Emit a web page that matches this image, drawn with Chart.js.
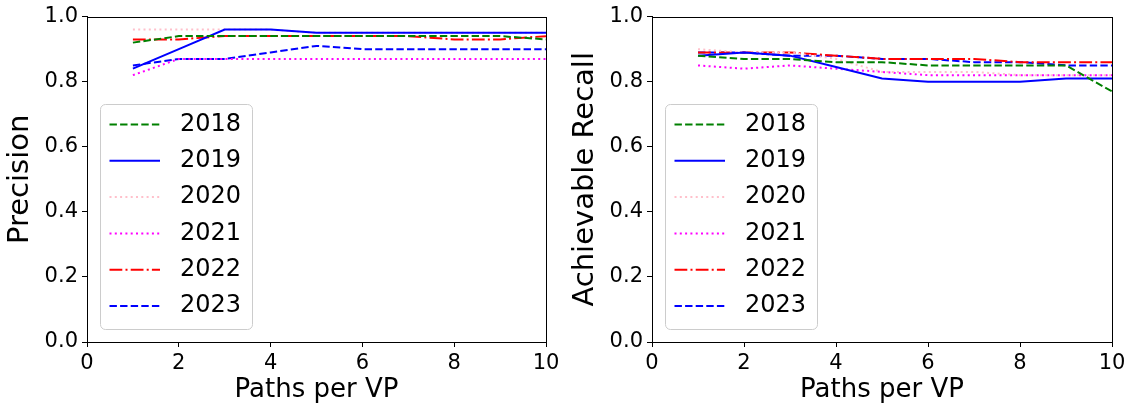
<!DOCTYPE html>
<html>
<head>
<meta charset="utf-8">
<script src="https://cdn.jsdelivr.net/npm/chart.js@4"></script>
<style>
  body { margin: 0; background: #fff; }
  #wrap { position: relative; width: 1138px; height: 409px; }
  #precisionChart { position: absolute; left: 0; top: 0; }
  #recallChart { position: absolute; left: 565px; top: 0; }
</style>
</head>
<body>
<div id="wrap">
  <canvas id="precisionChart" width="565" height="409"></canvas>
  <canvas id="recallChart" width="573" height="409"></canvas>
</div>
<script>
// x values and ticks
const pathsPerVP = [1, 2, 3, 4, 5, 6, 7, 8, 9, 10];
const years = ['2018', '2019', '2020', '2021', '2022', '2023'];
const xTicks = [0, 2, 4, 6, 8, 10];
const yTicks = [0.0, 0.2, 0.4, 0.6, 0.8, 1.0];

// precision per year
const precision2018 = [0.92, 0.94, 0.94, 0.94, 0.94, 0.94, 0.94, 0.94, 0.94, 0.93];
const precision2019 = [0.84, 0.90, 0.96, 0.96, 0.95, 0.95, 0.95, 0.95, 0.95, 0.95];
const precision2020 = [0.96, 0.96, 0.96, 0.96, 0.95, 0.95, 0.95, 0.95, 0.95, 0.95];
const precision2021 = [0.82, 0.87, 0.87, 0.87, 0.87, 0.87, 0.87, 0.87, 0.87, 0.87];
const precision2022 = [0.93, 0.93, 0.94, 0.94, 0.94, 0.94, 0.94, 0.93, 0.93, 0.94];
const precision2023 = [0.85, 0.87, 0.87, 0.89, 0.91, 0.90, 0.90, 0.90, 0.90, 0.90];

// achievable recall per year
const recall2018 = [0.88, 0.87, 0.87, 0.86, 0.86, 0.85, 0.85, 0.85, 0.85, 0.77];
const recall2019 = [0.88, 0.89, 0.88, 0.845, 0.81, 0.80, 0.80, 0.80, 0.81, 0.81];
const recall2020 = [0.90, 0.89, 0.89, 0.87, 0.83, 0.83, 0.83, 0.82, 0.82, 0.82];
const recall2021 = [0.85, 0.84, 0.85, 0.84, 0.83, 0.82, 0.82, 0.82, 0.82, 0.82];
const recall2022 = [0.89, 0.89, 0.89, 0.88, 0.87, 0.87, 0.87, 0.86, 0.86, 0.86];
const recall2023 = [0.89, 0.89, 0.88, 0.88, 0.87, 0.87, 0.86, 0.86, 0.85, 0.85];

const FONT = "'DejaVu Sans', sans-serif";
const lineStyles = [
    { color: 'green',   dash: [7.4, 3.2] },
    { color: 'blue',    dash: [] },
    { color: 'pink',    dash: [2, 3.3] },
    { color: '#ff00ff', dash: [2, 3.3] },
    { color: 'red',     dash: [12.8, 3.2, 2, 3.2] },
    { color: 'blue',    dash: [7.4, 3.2] }
];

function makeDatasets(seriesList) {
    return seriesList.map((vals, i) => ({
        label: years[i],
        data: pathsPerVP.map((x, j) => ({ x: x, y: vals[j] })),
        borderColor: lineStyles[i].color,
        backgroundColor: lineStyles[i].color,
        borderDash: lineStyles[i].dash,
        borderWidth: 2,
        pointRadius: 0,
        fill: false,
        tension: 0
    }));
}

// full box around the plot area, like matplotlib spines
const frame = {
    id: 'frame',
    afterDraw(chart) {
        const { ctx, chartArea: a } = chart;
        ctx.save();
        ctx.strokeStyle = '#000';
        ctx.lineWidth = 1;
        ctx.strokeRect(Math.round(a.left) + 0.5, Math.round(a.top) + 0.5,
            Math.round(a.right - a.left), Math.round(a.bottom - a.top));
        ctx.restore();
    }
};

// legend drawn inside the plot, lower left
const innerLegend = {
    id: 'innerLegend',
    afterDatasetsDraw(chart) {
        const { ctx, chartArea: a } = chart;
        const x = a.left + 13, y = a.bottom - 238, w = 152, h = 225, r = 5;
        ctx.save();
        ctx.beginPath();
        ctx.roundRect(x + 0.5, y + 0.5, w, h, r);
        ctx.fillStyle = 'rgba(255,255,255,0.8)';
        ctx.fill();
        ctx.strokeStyle = '#cccccc';
        ctx.lineWidth = 1;
        ctx.stroke();
        chart.data.datasets.forEach((ds, i) => {
            const cy = y + 20.5 + i * 36.3;
            ctx.beginPath();
            ctx.setLineDash(ds.borderDash);
            ctx.strokeStyle = ds.borderColor;
            ctx.lineWidth = 2;
            ctx.moveTo(x + 9.5, cy);
            ctx.lineTo(x + 60, cy);
            ctx.stroke();
            ctx.setLineDash([]);
            ctx.fillStyle = '#000';
            ctx.font = '24px ' + FONT;
            ctx.textBaseline = 'middle';
            ctx.textAlign = 'left';
            ctx.fillText(ds.label, x + 80, cy);
        });
        ctx.restore();
    }
};

function makeOptions(yTitle, rightPad) {
    return {
        responsive: false,
        animation: false,
        layout: { padding: { top: 14, right: rightPad, left: 0, bottom: 0 } },
        plugins: {
            legend: { display: false },
            tooltip: { enabled: false }
        },
        scales: {
            x: {
                type: 'linear',
                min: 0,
                max: 10,
                afterFit: s => { s.height = 67; },
                afterBuildTicks: s => { s.ticks = xTicks.map(v => ({ value: v })); },
                grid: { drawOnChartArea: false, drawTicks: true, tickLength: 5, color: '#000' },
                border: { color: '#000', width: 1 },
                ticks: { color: '#000', padding: 4, maxRotation: 0, font: { family: FONT, size: 21 } },
                title: {
                    display: true,
                    text: 'Paths per VP',
                    color: '#000',
                    font: { family: FONT, size: 26, lineHeight: 1 },
                    padding: { top: 0, bottom: 6 }
                }
            },
            y: {
                min: 0,
                max: 1,
                afterFit: s => { s.width = 87; },
                afterBuildTicks: s => { s.ticks = yTicks.map(v => ({ value: v })); },
                grid: { drawOnChartArea: false, drawTicks: true, tickLength: 5, color: '#000' },
                border: { color: '#000', width: 1 },
                ticks: {
                    color: '#000',
                    padding: 4,
                    font: { family: FONT, size: 21 },
                    callback: v => v.toFixed(1)
                },
                title: {
                    display: true,
                    text: yTitle,
                    color: '#000',
                    font: { family: FONT, size: 29, lineHeight: 1 },
                    padding: { top: 6, bottom: 0 }
                }
            }
        }
    };
}

document.addEventListener("DOMContentLoaded", function () {
    new Chart(document.getElementById('precisionChart'), {
        type: 'line',
        data: {
            datasets: makeDatasets([precision2018, precision2019, precision2020,
                precision2021, precision2022, precision2023])
        },
        options: makeOptions('Precision', 19),
        plugins: [frame, innerLegend]
    });

    new Chart(document.getElementById('recallChart'), {
        type: 'line',
        data: {
            datasets: makeDatasets([recall2018, recall2019, recall2020,
                recall2021, recall2022, recall2023])
        },
        options: makeOptions('Achievable Recall', 26),
        plugins: [frame, innerLegend]
    });
});
</script>
</body>
</html>
